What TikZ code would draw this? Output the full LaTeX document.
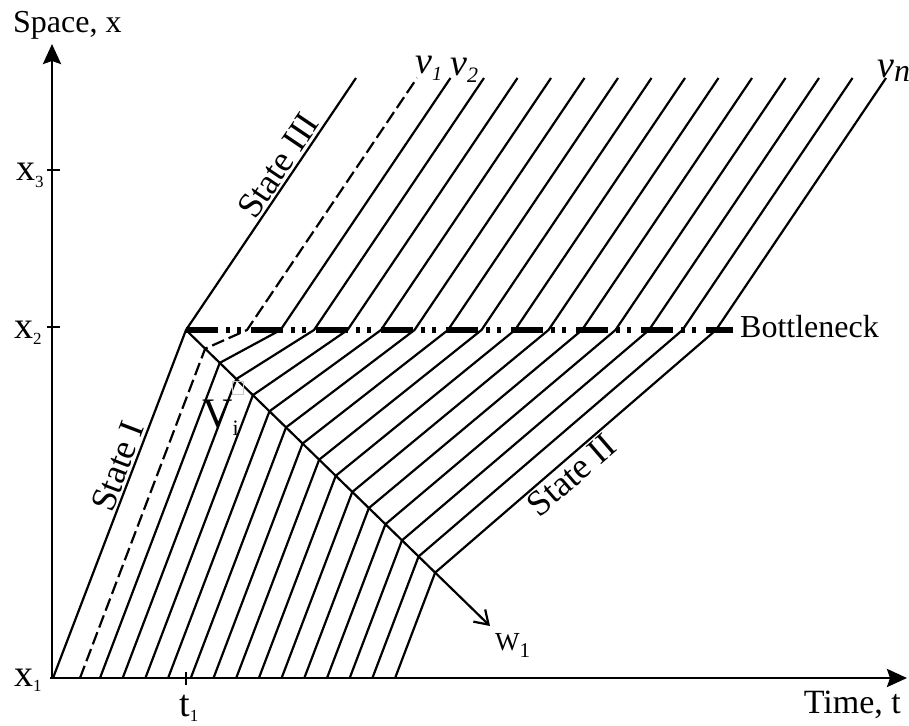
\documentclass[tikz,border=0pt]{standalone}
\usepackage{fontspec}
\setmainfont{Liberation Serif}
\usetikzlibrary{arrows.meta}
\newcommand{\fs}[1]{\fontsize{#1}{#1}\selectfont}
\begin{document}
\begin{tikzpicture}[x=1pt,y=-1pt,
  traj/.style={line width=2.2pt},
  axisline/.style={line width=2.8pt},
  axtip/.style={-{Stealth[length=20pt,width=18pt,inset=3pt]}},
  lbl/.style={inner sep=0pt},
  statelbl/.style={inner sep=3pt,font=\fs{36}},
  bneck/.style={line width=5.5pt,dash pattern=on 32pt off 8pt on 4pt off 7pt on 4pt off 10pt}
 ]
\useasboundingbox (0,0) rectangle (909,725);
% axes
\coordinate (O) at (52,678);
\coordinate (ytop) at (52,44);
\coordinate (xend) at (907,678);
\draw[axisline,axtip] (O) -- (ytop);
\draw[axisline,axtip] (50,678) -- (xend);
% ticks
\draw[axisline] (47,170) -- (60,170);
\draw[axisline] (47,327) -- (60,327);
\draw[axisline] (186,672) -- (186,685);
% bottleneck
\draw[bneck] (186,330) -- (733,330);
% first trajectory (State I / State III)
\draw[traj] (53,678) -- (186,330) -- (356,78);
% dashed trajectory
\pgfmathsetmacro{\sy}{(80+410.55)/1.407}
\pgfmathsetmacro{\sx}{186+1.027*(\sy-330)}
\draw[traj,dash pattern=on 13pt off 5pt] (80,678) -- (\sx,\sy) -- (247,330) -- (417,78);
% other trajectories
\foreach \k in {2,...,15}{
  \pgfmathsetmacro{\xo}{100+22.7*(\k-2)}
  \pgfmathsetmacro{\sy}{(\xo+410.55)/1.407}
  \pgfmathsetmacro{\sx}{186+1.027*(\sy-330)}
  \pgfmathsetmacro{\bx}{247+33.5*(\k-1)}
  \pgfmathsetmacro{\tx}{\bx+170}
  \draw[traj] (\xo,678) -- (\sx,\sy) -- (\bx,330) -- (\tx,78);
}
% shock wave
\draw[traj,-{Straight Barb[length=13pt,width=17pt]}] (186,330) -- (490,626);
% small grey mark
\draw[gray!45,line width=0.8pt] (232,381) rectangle (243,394);
% labels
\node[lbl,anchor=base west,font=\fs{32}] (space) at (13,33) {Space, x};
\node[lbl,anchor=base east,font=\fs{34}] (time) at (901,713) {Time, t};
\node[lbl,anchor=base west,font=\fs{32}] (bn) at (740,337) {Bottleneck};
\node[lbl,anchor=base west] (x3) at (16,180) {\fs{38}x\raisebox{-7pt}{\fs{17}3}};
\node[lbl,anchor=base west] (x2) at (14,338) {\fs{38}x\raisebox{-6pt}{\fs{17}2}};
\node[lbl,anchor=base west] (x1) at (14,686) {\fs{38}x\raisebox{-5pt}{\fs{17}1}};
\node[lbl,anchor=base west] (t1) at (179,716) {\fs{38}t\raisebox{-5pt}{\fs{17}1}};
\node[lbl,anchor=base west] (w1) at (495,650) {\fs{26}W\raisebox{-7pt}{\fs{21}1}};
\node[lbl,anchor=base west] (vi) at (202,427) {\fs{42}V\raisebox{-8pt}{\fs{22}i}};
\node[lbl,anchor=base west] (v1) at (415,73) {\fs{38}\itshape v\raisebox{-7pt}{\fs{20}1}};
\node[lbl,anchor=base west] (v2) at (450,75) {\fs{38}\itshape v\raisebox{-7pt}{\fs{22}2}};
\node[lbl,anchor=base west] (vn) at (877,77) {\fs{38}\itshape v\raisebox{-5pt}{\fs{32}n}};
\node[statelbl,anchor=south,rotate=69.1] (s1) at (131.9,471.6) {State I};
\node[statelbl,anchor=south,rotate=56] (s3) at (290.9,174.4) {State III};
\node[statelbl,anchor=north,rotate=40.8] (s2) at (561.6,463.3) {State II};
\end{tikzpicture}
\end{document}
